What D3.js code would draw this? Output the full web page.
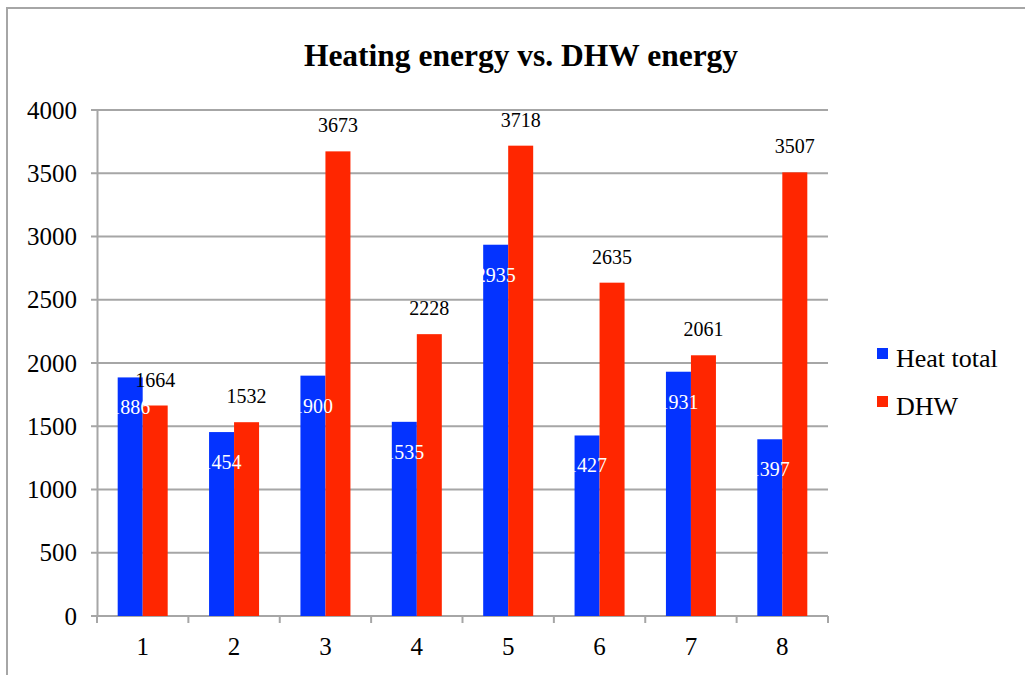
<!DOCTYPE html>
<html><head><meta charset="utf-8">
<script src="https://cdn.jsdelivr.net/npm/d3@7"></script>
<style>body{margin:0;background:#fff}svg{display:block}text{font-family:"Liberation Serif","DejaVu Serif",serif}</style>
</head><body>
<svg id="c" width="1025" height="675"></svg>
<script>
const categories = ["1","2","3","4","5","6","7","8"];
const seriesNames = ["Heat total","DHW"];
const heatTotal = [1886,1454,1900,1535,2935,1427,1931,1397];
const dhw = [1664,1532,3673,2228,3718,2635,2061,3507];
const yTicks = [0,500,1000,1500,2000,2500,3000,3500,4000];
const colors = ["#0433FF","#FF2600"];

const svg = d3.select("#c");
const L=97, R=828, T=110, B=616;
const x = d3.scaleBand().domain(categories).range([L,R]).padding(0);
const y = d3.scaleLinear().domain([0,4000]).range([B,T]);
const barW = 25;

// frame
svg.append("path").attr("d","M7,675V8H1025").attr("fill","none").attr("stroke","#a6a6a6").attr("stroke-width",2);

// title
svg.append("text").attr("x",521).attr("y",66).attr("text-anchor","middle")
  .attr("font-size",31.5).attr("font-weight","bold").text("Heating energy vs. DHW energy");

// gridlines
svg.append("g").selectAll("line").data(yTicks).join("line")
  .attr("x1",L-6).attr("x2",R).attr("y1",d=>y(d)).attr("y2",d=>y(d))
  .attr("stroke","#a6a6a6").attr("stroke-width",2);

// y axis
const ya = svg.append("g").attr("transform",`translate(${L},0)`)
  .call(d3.axisLeft(y).tickValues(yTicks).tickFormat(d3.format("d")).tickSize(0).tickPadding(20));
ya.select(".domain").attr("stroke","#a6a6a6").attr("stroke-width",2);
ya.selectAll("text").attr("font-size",25).attr("fill","#000").attr("font-family","Liberation Serif");

// x axis
const xa = svg.append("g").attr("transform",`translate(0,${B})`)
  .call(d3.axisBottom(x).tickSize(0).tickPadding(21));
xa.select(".domain").remove();
xa.selectAll("text").attr("font-size",25).attr("fill","#000").attr("font-family","Liberation Serif");
const bounds = categories.map(c=>x(c)).concat([x(categories[categories.length-1])+x.bandwidth()]);
svg.append("g").selectAll("line").data(bounds).join("line")
  .attr("x1",d=>d).attr("x2",d=>d).attr("y1",B).attr("y2",B+7)
  .attr("stroke","#a6a6a6").attr("stroke-width",2);
svg.append("line").attr("x1",L).attr("x2",R).attr("y1",B).attr("y2",B).attr("stroke","#a6a6a6").attr("stroke-width",2);

const data = categories.map((c,i)=>({c, h:heatTotal[i], d:dhw[i]}));
const g = svg.append("g");
g.selectAll(".hb").data(data).join("rect")
  .attr("x",d=>x(d.c)+x.bandwidth()/2-barW).attr("width",barW)
  .attr("y",d=>y(d.h)).attr("height",d=>B-y(d.h)).attr("fill",colors[0]);
g.selectAll(".db").data(data).join("rect")
  .attr("x",d=>x(d.c)+x.bandwidth()/2).attr("width",barW)
  .attr("y",d=>y(d.d)).attr("height",d=>B-y(d.d)).attr("fill",colors[1]);
g.selectAll(".hl").data(data).join("text")
  .attr("x",d=>x(d.c)+x.bandwidth()/2-barW/2).attr("y",d=>y(d.h)+37)
  .attr("text-anchor","middle").attr("font-size",20).attr("fill","#fff").text(d=>d.h);
g.selectAll(".dl").data(data).join("text")
  .attr("x",d=>x(d.c)+x.bandwidth()/2+barW/2).attr("y",d=>y(d.d)-19)
  .attr("text-anchor","middle").attr("font-size",20).attr("fill","#000").text(d=>d.d);

// legend
const lg = svg.append("g");
seriesNames.forEach((n,i)=>{
  lg.append("rect").attr("x",877).attr("y",348+i*48).attr("width",11).attr("height",11).attr("fill",colors[i]);
  lg.append("text").attr("x",896).attr("y",367+i*48).attr("font-size",26).attr("fill","#000").text(n);
});
</script>
</body></html>
